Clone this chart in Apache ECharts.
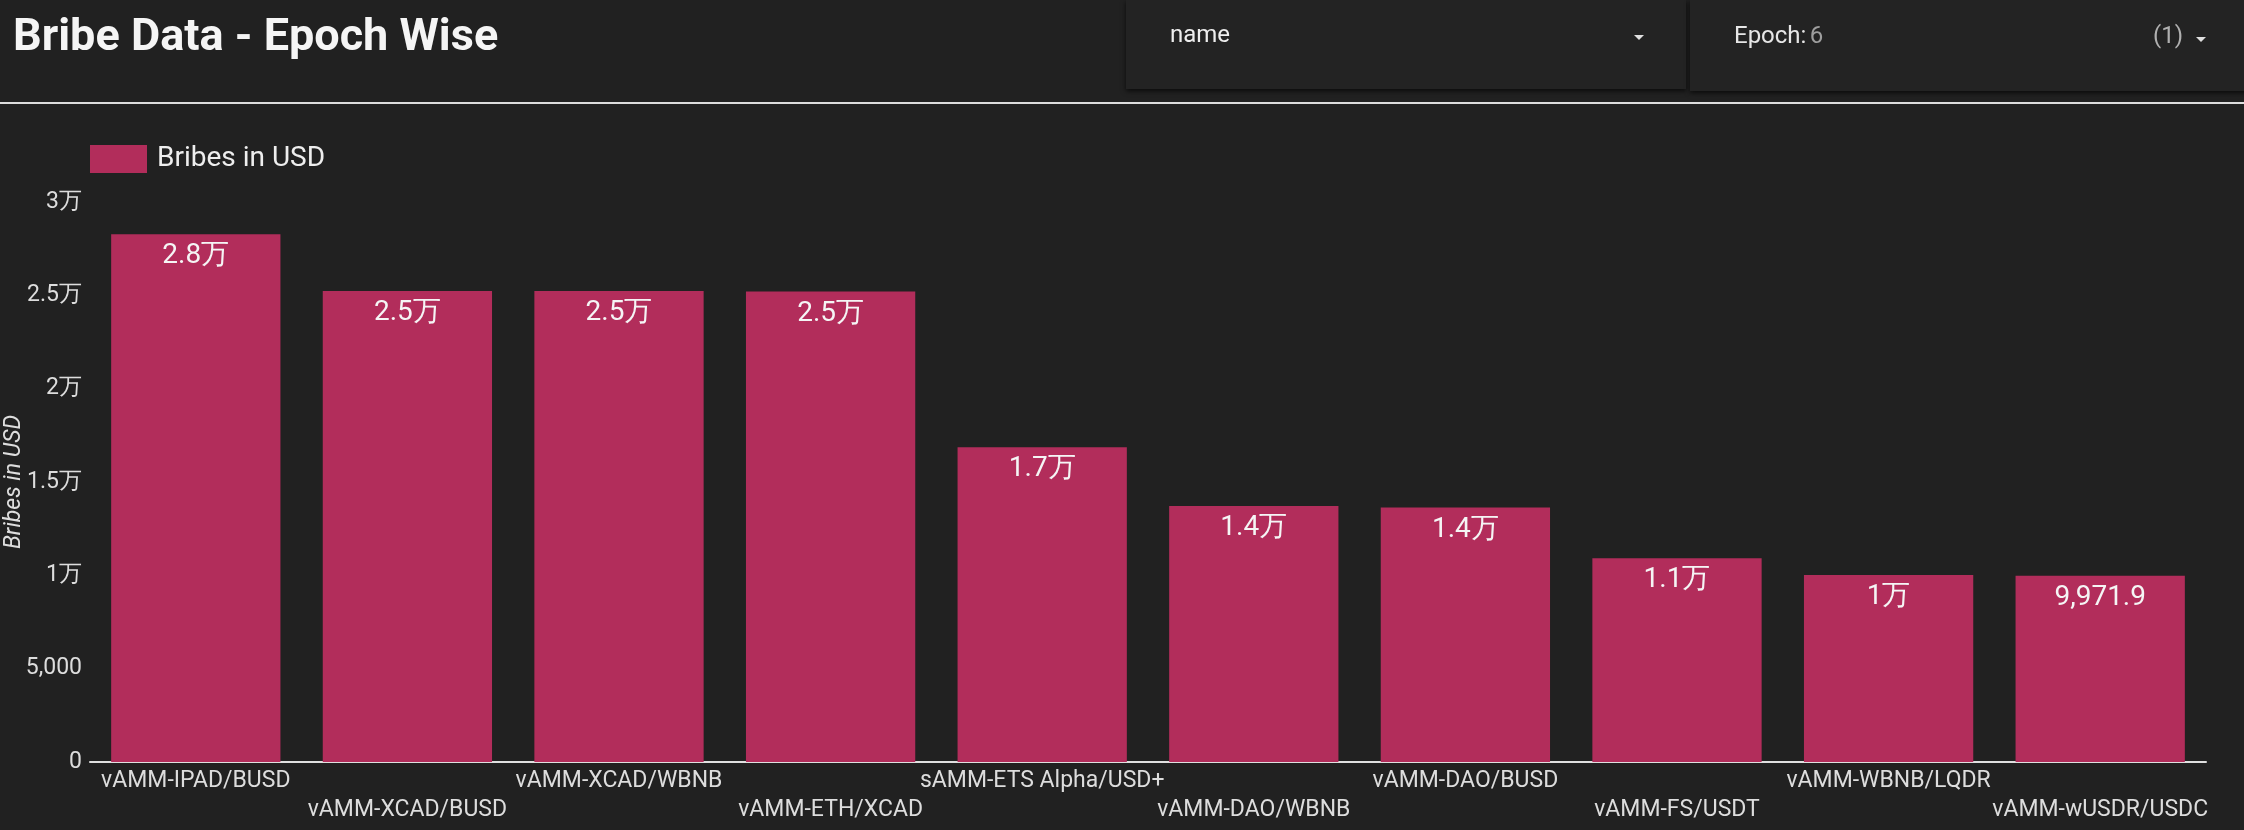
<!DOCTYPE html>
<html>
<head>
<meta charset="utf-8">
<script src="https://cdn.jsdelivr.net/npm/echarts@6/dist/echarts.min.js"></script>
<style>
html,body{margin:0;padding:0;background:#212121;}
#chart{width:2244px;height:830px;}
</style>
</head>
<body>
<div id="chart"></div>
<script>
const categories = ['vAMM-IPAD/BUSD','vAMM-XCAD/BUSD','vAMM-XCAD/WBNB','vAMM-ETH/XCAD','sAMM-ETS Alpha/USD+','vAMM-DAO/WBNB','vAMM-DAO/BUSD','vAMM-FS/USDT','vAMM-WBNB/LQDR','vAMM-wUSDR/USDC'];
const bribes = [28270, 25230, 25230, 25200, 16860, 13710, 13630, 10910, 10020, 9971.9];
const seriesName = 'Bribes in USD';
const yTicks = [0, 5000, 10000, 15000, 20000, 25000, 30000];

function fmt(v){
  if (Math.abs(v) >= 10000){
    let s = (Math.round(v/1000)/10).toFixed(1).replace(/\.0$/,'');
    return s + '万';
  }
  return v.toLocaleString('en-US',{maximumFractionDigits:1});
}

const chart = echarts.init(document.getElementById('chart'));
const FONT = 'Roboto';
chart.setOption({
  backgroundColor:'#212121',
  textStyle:{fontFamily:FONT},
  graphic:[
    {type:'rect',shape:{x:1126,y:0,width:560,height:89},style:{fill:'#232323',shadowBlur:5,shadowOffsetY:2,shadowColor:'rgba(0,0,0,0.7)'},z:1},
    {type:'rect',shape:{x:1690,y:0,width:560,height:91},style:{fill:'#232323',shadowBlur:5,shadowOffsetY:2,shadowColor:'rgba(0,0,0,0.7)'},z:1},
    {type:'text',left:13,top:16,style:{text:'Bribe Data - Epoch Wise',fontSize:45,fontWeight:'bold',fill:'#f5f5f5',fontFamily:FONT},z:5},
    {type:'text',left:1170,top:24,style:{text:'name',fontSize:24,fill:'#eeeeee',fontFamily:FONT},z:5},
    {type:'polygon',shape:{points:[[1634,35],[1644,35],[1639,40]]},style:{fill:'#e0e0e0'},z:5},
    {type:'text',left:1734,top:25,style:{rich:{a:{fontSize:24,fill:'#e6e6e6',fontFamily:FONT},b:{fontSize:24,fill:'#9e9e9e',fontFamily:FONT}},text:'{a|Epoch:} {b|6}'},z:5},
    {type:'text',left:2153,top:25,style:{text:'(1)',fontSize:24,fill:'#b0b0b0',fontFamily:FONT},z:5},
    {type:'polygon',shape:{points:[[2196,37],[2206,37],[2201,42]]},style:{fill:'#e0e0e0'},z:5},
    {type:'rect',shape:{x:0,y:102,width:2244,height:2},style:{fill:'#dddddd'},z:5}
  ],
  legend:{
    left:85, top:140,
    itemWidth:57, itemHeight:28, icon:'rect',
    textStyle:{color:'#eeeeee',fontSize:28,fontFamily:FONT,padding:[0,0,0,5]},
    data:[seriesName]
  },
  grid:{left:90,right:38,top:202,bottom:68,containLabel:false,outerBoundsMode:'none'},
  xAxis:{
    type:'category',
    data:categories,
    axisLine:{lineStyle:{color:'#e0e0e0',width:2}},
    axisTick:{show:false},
    axisLabel:{
      interval:0, color:'#dddddd', fontSize:23, fontFamily:FONT, margin:5, lineHeight:29,
      formatter:function(v,i){return i%2===1 ? '\n'+v : v;}
    }
  },
  yAxis:{
    type:'value', min:0, max:30000, interval:5000,
    name:'Bribes in USD', nameLocation:'middle', nameGap:64, nameMoveOverlap:false,
    nameTextStyle:{color:'#dddddd',fontSize:23,fontStyle:'italic',fontFamily:FONT},
    axisLine:{show:false}, axisTick:{show:false}, splitLine:{show:false},
    axisLabel:{color:'#dddddd',fontSize:23,fontFamily:FONT,margin:8,formatter:function(v){return fmt(v);}}
  },
  series:[{
    name:seriesName, type:'bar', data:bribes,
    barCategoryGap:'20%',
    itemStyle:{color:'#b22d5b'},
    label:{show:true,position:'insideTop',distance:8,color:'#f5f5f5',fontSize:28,fontFamily:FONT,
      formatter:function(p){return fmt(p.value);}}
  }]
});
</script>
</body>
</html>
